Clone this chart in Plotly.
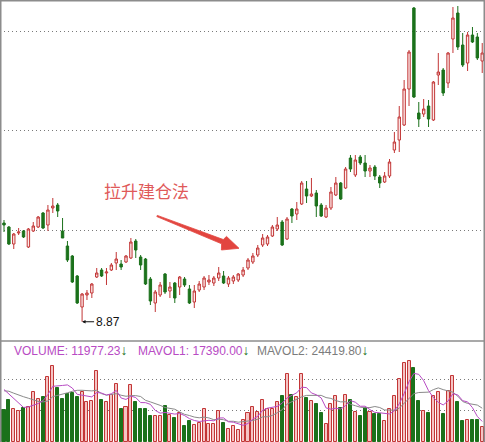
import plotly.graph_objects as go
import pandas as pd

# ---------------- data ----------------
opens = [12.82, 12.66, 11.98, 12.42, 12.50, 11.86, 12.50, 12.66, 13.22, 12.74,
         13.42, 13.54, 12.50, 11.90, 11.50, 10.70, 9.46, 9.94, 10.02, 10.66,
         10.94, 10.82, 10.94, 11.22, 11.18, 11.26, 11.42, 12.10, 11.46, 11.38,
         10.58, 9.62, 9.94, 10.78, 10.10, 10.42, 10.26, 10.58, 10.18, 9.66,
         10.14, 10.26, 10.46, 10.42, 10.62, 10.70, 10.38, 10.50, 10.54, 10.74,
         11.02, 11.26, 11.54, 11.94, 11.98, 12.30, 12.58, 12.86, 12.18, 13.38,
         13.18, 13.58, 14.18, 13.90, 14.02, 13.54, 13.06, 13.42, 13.94, 14.42,
         14.22, 15.42, 14.74, 15.46, 15.22, 14.90, 15.06, 14.66, 14.46, 14.70,
         15.74, 16.14, 16.74, 18.18, 21.42, 17.22, 17.18, 17.50, 16.94, 18.74,
         18.94, 18.42, 20.18, 21.22, 19.94, 19.22, 20.34, 20.26, 19.30]
highs = [12.94, 12.70, 12.42, 12.62, 12.54, 12.62, 12.86, 13.10, 13.26, 13.54,
         13.82, 13.62, 13.02, 12.10, 11.54, 10.74, 10.02, 10.14, 10.42, 11.02,
         11.02, 11.02, 11.22, 11.66, 11.34, 11.54, 12.22, 12.18, 11.54, 11.42,
         10.66, 10.14, 10.46, 10.82, 10.46, 10.46, 10.70, 10.66, 10.34, 10.34,
         10.50, 10.70, 10.74, 10.70, 11.06, 10.90, 10.70, 10.74, 10.82, 11.06,
         11.42, 11.62, 11.94, 12.38, 12.34, 12.74, 13.06, 12.94, 13.06, 13.42,
         13.66, 14.50, 14.50, 14.62, 14.14, 13.62, 13.54, 14.26, 14.66, 14.46,
         15.06, 15.54, 15.54, 15.54, 15.54, 15.14, 15.14, 14.74, 14.86, 15.38,
         16.46, 17.50, 18.54, 19.74, 21.46, 17.66, 17.78, 17.74, 18.50, 19.62,
         19.02, 19.66, 21.46, 21.50, 20.42, 20.46, 20.66, 20.42, 20.02]
lows = [12.46, 11.94, 11.78, 12.34, 12.22, 11.82, 12.46, 12.62, 12.58, 12.50,
        13.22, 13.06, 12.22, 11.26, 10.42, 9.58, 8.87, 9.74, 9.82, 10.62,
        10.66, 10.34, 10.90, 10.94, 10.94, 11.22, 11.38, 11.42, 10.94, 10.34,
        9.54, 9.26, 9.86, 9.98, 9.82, 9.62, 9.94, 10.26, 9.58, 9.42,
        10.06, 10.14, 10.34, 10.30, 10.50, 10.38, 10.26, 10.38, 10.46, 10.66,
        10.94, 11.18, 11.46, 11.86, 11.90, 12.26, 12.50, 11.90, 12.14, 12.82,
        12.94, 13.54, 13.62, 13.86, 13.06, 13.06, 13.02, 13.34, 13.90, 13.74,
        14.18, 14.86, 14.66, 15.14, 14.66, 14.66, 14.54, 14.22, 14.42, 14.62,
        15.62, 15.66, 16.70, 17.50, 17.82, 16.66, 17.06, 16.66, 16.90, 18.34,
        17.90, 18.22, 19.62, 19.74, 19.06, 18.90, 20.02, 19.34, 18.82]
closes = [12.74, 11.98, 12.38, 12.46, 12.26, 12.58, 12.70, 13.06, 12.62, 13.34,
          13.50, 13.30, 12.22, 11.34, 10.46, 9.62, 9.98, 10.02, 10.38, 10.82,
          10.70, 10.86, 11.14, 11.38, 11.06, 11.50, 12.06, 11.74, 11.14, 10.38,
          9.70, 10.06, 10.34, 10.06, 10.26, 9.82, 10.66, 10.34, 9.62, 10.10,
          10.38, 10.62, 10.54, 10.62, 10.82, 10.42, 10.62, 10.66, 10.78, 10.94,
          11.34, 11.50, 11.82, 12.22, 12.26, 12.66, 12.74, 11.94, 12.98, 13.10,
          13.38, 14.42, 13.90, 13.98, 13.50, 13.10, 13.42, 14.06, 14.42, 13.78,
          14.98, 14.98, 15.34, 15.22, 14.90, 15.02, 14.70, 14.42, 14.70, 15.26,
          16.06, 17.06, 18.18, 19.66, 17.86, 16.98, 17.38, 16.98, 18.46, 18.86,
          18.02, 19.62, 21.02, 19.86, 19.14, 20.34, 20.06, 19.42, 19.62]
volumes = [26000, 34000, 26400, 24800, 27000, 28000, 40000, 34200, 36000, 51800,
           60800, 43200, 34400, 38200, 39200, 35800, 40200, 32200, 33000, 56800,
           33600, 32000, 37600, 46200, 26600, 27800, 45400, 31800, 26200, 26200,
           21000, 21000, 21000, 29000, 21400, 19200, 23600, 12600, 16800, 13900,
           15200, 26200, 14700, 14700, 25200, 15600, 10700, 13000, 9400, 18000,
           23000, 28200, 24200, 33600, 26400, 26400, 31800, 37000, 54200, 37600,
           36200, 54200, 35400, 32800, 30400, 23400, 14200, 30400, 36800, 27000,
           37600, 33600, 24200, 20600, 27200, 23800, 22600, 22600, 17000, 26200,
           36800, 50200, 63400, 64800, 59200, 33000, 25000, 23400, 37200, 40000,
           22700, 40500, 52800, 32200, 17000, 17900, 17600, 17600, 11977.23]
# volumes of the days just before the visible window (seed the moving averages)
prior_volume = [38000, 42000, 36000, 44000, 40000, 52000, 48000, 40000, 44000]
legend_values = [11977.23, 17390.00, 24419.80]
title_text = "拉升建仓法"

# ---------------- derived ----------------
W, H = 485, 442
n = len(opens)
idx = list(range(n))
vol_all = pd.Series(prior_volume + volumes)
ma5 = vol_all.rolling(5).mean().iloc[len(prior_volume):].tolist()
ma10 = vol_all.rolling(10).mean().iloc[len(prior_volume):].tolist()
up = [c >= o for o, c in zip(opens, closes)]

RED_LINE = "#c23636"
RED_FILL = "#fde9e9"
RED_VFILL = "#f5c4c4"
GREEN = "#1b711b"
GRID = "#7a7a7a"
BORDER = "#8c8c8c"
MAG = "#b84bc4"

split = 101 / H  # volume pane height as fraction of figure

fig = go.Figure()
fig.add_trace(go.Candlestick(
    x=idx, open=opens, high=highs, low=lows, close=closes,
    increasing=dict(line=dict(color=RED_LINE, width=1), fillcolor=RED_FILL),
    decreasing=dict(line=dict(color=GREEN, width=1), fillcolor=GREEN),
    whiskerwidth=0, hoverinfo="skip", yaxis="y"))
fig.add_trace(go.Bar(
    x=idx, y=volumes, width=0.62, yaxis="y2",
    marker=dict(color=[RED_VFILL if u else GREEN for u in up],
                line=dict(color=[RED_LINE if u else GREEN for u in up], width=1))))
fig.add_trace(go.Scatter(x=idx, y=ma10, mode="lines", yaxis="y2",
                         line=dict(color="#8a8a8a", width=1)))
fig.add_trace(go.Scatter(x=idx, y=ma5, mode="lines", yaxis="y2",
                         line=dict(color=MAG, width=1)))

def P(px, py):
    return px / W, 1 - py / H

shapes = []
# frame
shapes.append(dict(type="line", xref="paper", yref="paper", x0=0, x1=1, y0=1, y1=1,
                   line=dict(color=BORDER, width=3)))
shapes.append(dict(type="line", xref="paper", yref="paper", x0=0, x1=0, y0=0, y1=1,
                   line=dict(color=BORDER, width=3)))
shapes.append(dict(type="line", xref="paper", yref="paper", x0=1, x1=1, y0=0, y1=1,
                   line=dict(color=BORDER, width=3)))
shapes.append(dict(type="line", xref="paper", yref="paper", x0=0, x1=1, y0=split, y1=split,
                   line=dict(color=BORDER, width=1.5)))
# tapered red arrow
pts = [(157.3, 215.4), (223.3, 239.5), (226.5, 236.4), (239, 248.3),
       (221.4, 250.0), (221.6, 243.8), (156.8, 216.6)]
path = "M " + " L ".join("%.4f,%.4f" % P(x, y) for x, y in pts) + " Z"
shapes.append(dict(type="path", xref="paper", yref="paper", path=path,
                   fillcolor="#e2453f", line=dict(color="#e2453f", width=0.8)))

ann = []
tx, ty = P(102, 190.5)
ann.append(dict(xref="paper", yref="paper", x=tx, y=ty, xanchor="left", yanchor="middle",
                text=title_text, showarrow=False,
                font=dict(family="Noto Sans CJK SC", size=17, color="#df5a5a")))
lo_i = min(range(n), key=lambda i: lows[i])
ann.append(dict(xref="x", yref="y", x=lo_i, y=lows[lo_i], ax=12, ay=0,
                xanchor="left", yanchor="middle", text="%.2f" % lows[lo_i],
                showarrow=True, arrowhead=2, arrowsize=0.7, arrowwidth=1,
                arrowcolor="#111111", standoff=0,
                font=dict(family="Liberation Sans", size=12, color="#111111")))
labels = [("VOLUME: %.2f" % legend_values[0], MAG, 12),
          ("MAVOL1: %.2f" % legend_values[1], MAG, 136),
          ("MAVOL2: %.2f" % legend_values[2], "#7c7c7c", 255)]
for t, c, x0 in labels:
    lx, ly = P(x0, 350)
    ann.append(dict(xref="paper", yref="paper", x=lx, y=ly, xanchor="left", yanchor="middle",
                    text="<span style='color:%s'>%s</span>"
                         "<span style='color:%s;font-size:14px'>↓</span>"
                         % (c, t, GREEN),
                    showarrow=False,
                    font=dict(family="Liberation Sans", size=12, color=c)))

price_top = 21.74
price_bot = 21.74 - 0.04 * 341
fig.update_layout(
    width=W, height=H, margin=dict(l=0, r=0, t=0, b=0),
    paper_bgcolor="white", plot_bgcolor="white", showlegend=False,
    xaxis=dict(range=[-0.82, 98.57], visible=False, rangeslider=dict(visible=False),
               domain=[0, 1], anchor="y2"),
    yaxis=dict(domain=[split, 1], range=[price_bot, price_top],
               tickvals=[12.54, 16.53, 20.50], showticklabels=False, ticks="",
               showgrid=True, gridcolor=GRID, gridwidth=1, griddash="1px,3px",
               zeroline=False, showline=False),
    yaxis2=dict(domain=[0, split], range=[0, 80800],
                tickvals=[25000, 50000], showticklabels=False, ticks="",
                showgrid=True, gridcolor=GRID, gridwidth=1, griddash="1px,3px",
                zeroline=False, showline=False),
    shapes=shapes, annotations=ann, bargap=0,
)
fig.write_html("out.html", config={"displayModeBar": False},
               post_script="document.body.style.margin='0';document.body.style.padding='0';"
                           "document.body.style.overflow='hidden';")
